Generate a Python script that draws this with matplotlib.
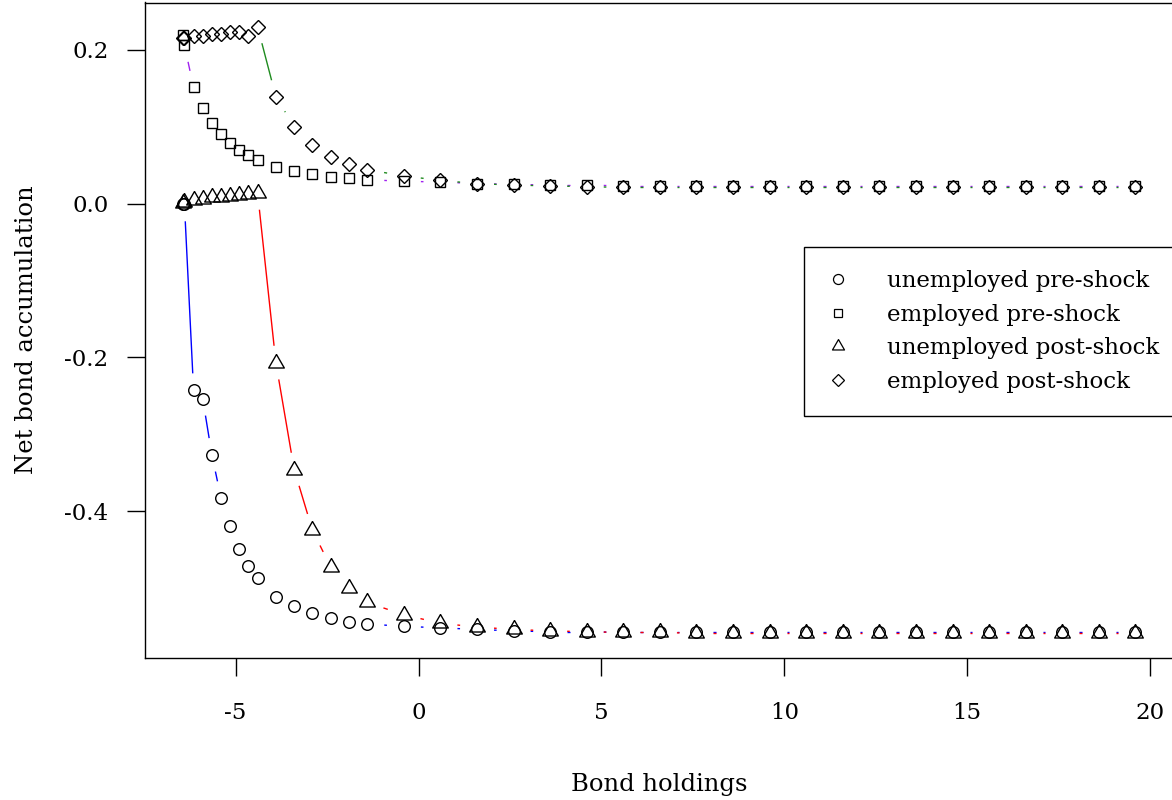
import numpy as np
import matplotlib
matplotlib.use("Agg")
import matplotlib.pyplot as plt
from matplotlib.lines import Line2D

plt.rcParams['font.family'] = ['DejaVu Serif']

# ---------------- data ----------------
bond = [-6.45, -6.4, -6.15, -5.9, -5.65, -5.4, -5.15, -4.9, -4.65, -4.4,
        -3.9, -3.4, -2.9, -2.4, -1.9, -1.4,
        -0.4, 0.6, 1.6, 2.6, 3.6, 4.6, 5.6, 6.6, 7.6, 8.6, 9.6,
        10.6, 11.6, 12.6, 13.6, 14.6, 15.6, 16.6, 17.6, 18.6, 19.6]

unemp_pre = [0.000, -0.001, -0.243, -0.254, -0.327, -0.383, -0.420, -0.449, -0.471, -0.487,
             -0.512, -0.524, -0.533, -0.539, -0.544, -0.547,
             -0.550, -0.552, -0.554, -0.556, -0.557, -0.557, -0.558, -0.558, -0.558, -0.558, -0.558,
             -0.558, -0.558, -0.558, -0.558, -0.558, -0.558, -0.558, -0.558, -0.558, -0.558]

emp_pre = [0.219, 0.206, 0.151, 0.124, 0.105, 0.090, 0.079, 0.070, 0.063, 0.057,
           0.048, 0.042, 0.038, 0.035, 0.033, 0.031,
           0.029, 0.028, 0.026, 0.025, 0.024, 0.024, 0.023, 0.023, 0.023, 0.023, 0.023,
           0.023, 0.023, 0.023, 0.023, 0.023, 0.023, 0.023, 0.023, 0.023, 0.023]

unemp_post = [0.001, 0.002, 0.005, 0.006, 0.008, 0.009, 0.010, 0.011, 0.013, 0.014,
              -0.207, -0.346, -0.425, -0.473, -0.500, -0.519,
              -0.535, -0.546, -0.551, -0.554, -0.556, -0.557, -0.558, -0.558, -0.559, -0.559, -0.559,
              -0.559, -0.559, -0.559, -0.559, -0.559, -0.559, -0.559, -0.559, -0.559, -0.559]

emp_post = [0.216, 0.215, 0.218, 0.218, 0.220, 0.221, 0.223, 0.223, 0.218, 0.230,
            0.139, 0.100, 0.076, 0.061, 0.051, 0.044,
            0.036, 0.030, 0.026, 0.024, 0.023, 0.022, 0.021, 0.021, 0.021, 0.021, 0.021,
            0.021, 0.021, 0.021, 0.021, 0.021, 0.021, 0.021, 0.021, 0.021, 0.021]

labels = ["unemployed pre-shock", "employed pre-shock",
          "unemployed post-shock", "employed post-shock"]
line_colors = ["#0000FF", "#A020F0", "#FF0000", "#1E8B1E"]

x_ticks = [-5, 0, 5, 10, 15, 20]
y_ticks = [-0.4, -0.2, 0.0, 0.2]
y_tick_labels = ["-0.4", "-0.2", "0.0", "0.2"]

# ---------------- figure ----------------
W, H = 1172, 800
fig = plt.figure(figsize=(W / 100, H / 100), dpi=100)
left_px, right_px, top_px, bot_px = 144.5, 1173.5, 2.5, 657.5
ax = fig.add_axes([left_px / W, 1 - bot_px / H,
                   (right_px - left_px) / W, (bot_px - top_px) / H])

allx = np.array(bond)
ally = np.concatenate([unemp_pre, emp_pre, unemp_post, emp_post])
rx = allx.max() - allx.min()
ry = ally.max() - ally.min()
ax.set_xlim(allx.min() - 0.04 * rx, allx.max() + 0.04 * rx)
ax.set_ylim(ally.min() - 0.04 * ry, ally.max() + 0.04 * ry)

# triangle marker like R pch=2 (centroid centred)
tri = [(0, 1), (-0.866, -0.5), (0.866, -0.5), (0, 1)]
pt = 72 / 100.0          # points per pixel at dpi 100
R_px = 5.8               # symbol "radius" in pixels
mk = {
    'o': dict(marker='o', markersize=2 * R_px * pt),
    's': dict(marker='s', markersize=1.772 * R_px * pt),
    't': dict(marker=tri, markersize=(2.694 * R_px / 0.866) * pt),
    'D': dict(marker='D', markersize=(2.506 * R_px / 1.4142) * pt),
}
series = [unemp_pre, emp_pre, unemp_post, emp_post]
keys = ['o', 's', 't', 'D']

gap = 17.0


def gapped_lines(xs, ys, color):
    pts = ax.transData.transform(np.column_stack([xs, ys]))
    inv = ax.transData.inverted()
    for p0, p1 in zip(pts[:-1], pts[1:]):
        d = p1 - p0
        L = np.hypot(*d)
        if L <= 2 * gap:
            continue
        u = d / L
        a = p0 + u * gap
        b = p1 - u * gap
        da, db = inv.transform(np.array([a, b]))
        ax.plot([da[0], db[0]], [da[1], db[1]], color=color, lw=1.0,
                solid_capstyle='butt', zorder=2)


for ys, c in zip(series, line_colors):
    gapped_lines(bond, ys, c)

for ys, k in zip(series, keys):
    ax.plot(bond, ys, linestyle='None', color='black', markerfacecolor='none',
            markeredgewidth=1.0, zorder=3, **mk[k])

# axes styling
for s in ax.spines.values():
    s.set_linewidth(1.0)
    s.set_color('black')
ax.set_xticks(x_ticks)
ax.set_xticklabels([str(t) for t in x_ticks])
ax.set_yticks(y_ticks)
ax.set_yticklabels(y_tick_labels)
ax.tick_params(axis='both', direction='out', length=13, width=1.0,
               labelsize=16.5, colors='black')
ax.tick_params(axis='x', pad=19)
ax.tick_params(axis='y', pad=13)

ax.set_xlabel("Bond holdings", fontsize=17.5)
ax.xaxis.label.set_va('baseline')
ax.xaxis.set_label_coords(0.5, (bot_px - 791) / (bot_px - top_px))
ax.set_ylabel("Net bond accumulation", fontsize=17.5)
ax.yaxis.label.set_va('baseline')
ax.yaxis.set_label_coords((33 - left_px) / (right_px - left_px), 0.5)

# legend (symbol sizes in pixels)
leg_px = {'o': 10.0, 's': 8.5, 't': 13.9, 'D': 8.5}
handles = []
for k in keys:
    handles.append(Line2D([], [], linestyle='None', marker=mk[k]['marker'],
                          color='black', markerfacecolor='none',
                          markeredgewidth=0.9, markersize=leg_px[k] * pt))
leg = ax.legend(handles, labels, loc='upper left',
                bbox_to_anchor=(804 / W, 1 - 247 / H), bbox_transform=fig.transFigure,
                borderaxespad=0, fontsize=16.5, frameon=True, fancybox=False,
                edgecolor='black', framealpha=1, borderpad=1.02,
                labelspacing=0.5, handlelength=0.89, handletextpad=1.72)
leg.get_frame().set_linewidth(1.0)

fig.savefig("out.png", dpi=100)
